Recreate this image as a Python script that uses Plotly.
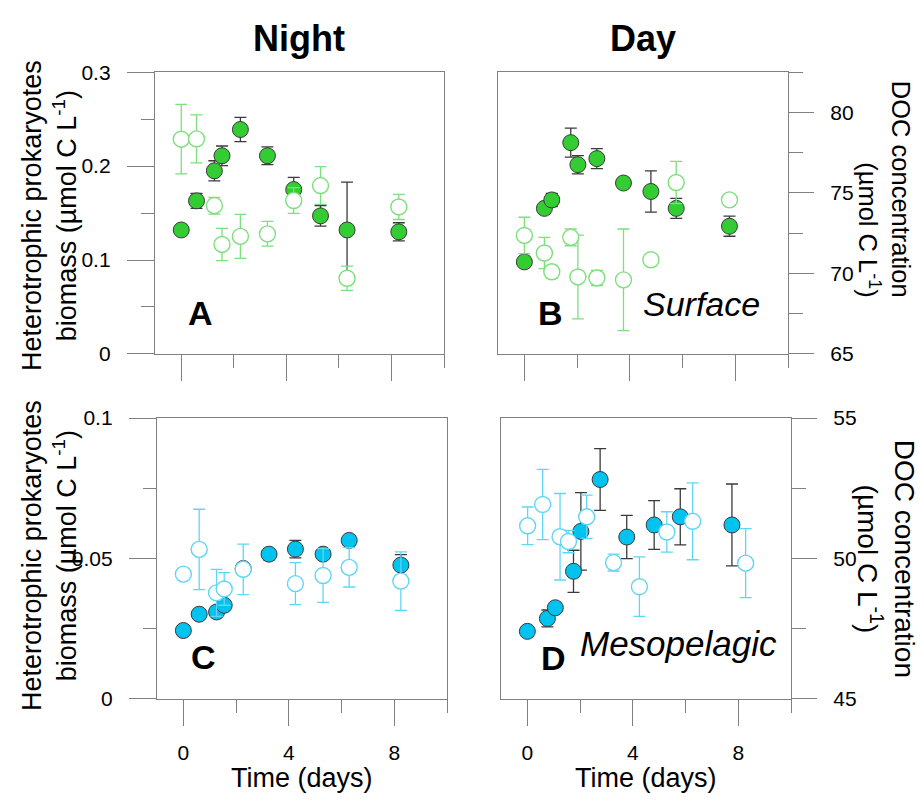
import plotly.graph_objects as go

# ---- data -------------------------------------------------------------
# Surface, night (panel A)
t_night_surf = [0, 0.58, 1.26, 1.55, 2.25, 3.28, 4.28, 5.30, 6.31, 8.28]
bio_night_surf = [0.132, 0.163, 0.195, 0.211, 0.239, 0.211, 0.175, 0.147, 0.132, 0.130]
bio_night_surf_sd = [0.003, 0.008, 0.0107, 0.0104, 0.013, 0.0095, 0.013, 0.011, 0.051, 0.0097]
doc_night_surf = [78.34, 78.36, 74.21, 71.8, 72.3, 72.46, 74.53, 75.46, 69.7, 74.13]
doc_night_surf_sd = [2.16, 1.49, 0.52, 1.0, 1.37, 0.77, 0.8, 1.17, 0.75, 0.78]

# Surface, day (panel B)
t_day_surf = [0, 0.76, 1.04, 1.76, 2.03, 2.75, 3.76, 4.80, 5.76, 7.78]
bio_day_surf = [0.098, 0.155, 0.164, 0.225, 0.2015, 0.208, 0.182, 0.173, 0.155, 0.136]
bio_day_surf_sd = [0.002, 0.004, 0.007, 0.0155, 0.0097, 0.0107, 0.003, 0.022, 0.0107, 0.0107]
doc_day_surf = [72.36, 71.27, 70.1, 72.24, 69.78, 69.72, 69.6, 70.85, 75.65, 74.57]
doc_day_surf_sd = [1.13, 0.97, 0.4, 0.52, 2.6, 0.47, 3.16, 0.0, 1.31, 0.0]

# Mesopelagic, night (panel C)
t_night_meso = [0, 0.6, 1.26, 1.55, 2.27, 3.25, 4.25, 5.30, 6.29, 8.25]
bio_night_meso = [0.0243, 0.0301, 0.0309, 0.0333, 0.0464, 0.0515, 0.0533, 0.0515, 0.0564, 0.0476]
bio_night_meso_sd = [0.0005, 0.0005, 0.0005, 0.0005, 0.0005, 0.002, 0.0031, 0.001, 0.001, 0.0037]
t_night_meso_doc = [0, 0.6, 1.26, 1.55, 2.27, 4.25, 5.30, 6.29, 8.25]
doc_night_meso = [49.44, 50.32, 48.77, 48.91, 49.61, 49.1, 49.39, 49.68, 49.19]
doc_night_meso_sd = [0.0, 1.43, 0.84, 0.58, 0.9, 0.75, 0.96, 0.7, 1.04]

# Mesopelagic, day (panel D)
t_day_meso = [0, 0.76, 1.06, 1.75, 2.03, 2.76, 3.77, 4.81, 5.80, 7.76]
bio_day_meso = [0.024, 0.0286, 0.0324, 0.0454, 0.0596, 0.0781, 0.0576, 0.0619, 0.0648, 0.0619]
bio_day_meso_sd = [0.0005, 0.003, 0.0008, 0.0075, 0.0138, 0.011, 0.0077, 0.0087, 0.010, 0.0146]
t_day_meso_doc = [0.01, 0.58, 1.24, 1.56, 2.25, 3.27, 4.25, 5.29, 6.27, 8.28]
doc_day_meso = [51.16, 51.92, 50.77, 50.6, 51.48, 49.85, 48.99, 50.94, 51.32, 49.83]
doc_day_meso_sd = [0.67, 1.25, 1.54, 0.4, 0.77, 0.3, 1.06, 0.72, 1.37, 1.23]

# ---- styling ----------------------------------------------------------
W, H = 921, 802
FONT = "Liberation Sans, Arial, sans-serif"
AXIS_GREY = "#808080"
GREEN = "#33cc33"
GREEN_LIGHT = "#7ddf7d"
CYAN = "#00c3f0"
CYAN_LIGHT = "#5fd6f4"
DARK = "#3a3a3a"


def px_x(p):
    return p / W


def px_y(p):
    return 1 - p / H


# panel boxes in pixels: (left, right, top, bottom)
boxes = {
    "A": (155, 444, 62, 352),
    "B": (498, 788, 62, 352),
    "C": (157, 447, 418, 707),
    "D": (501, 791, 418, 707),
}

fig = go.Figure()


def add_panel(xa, ybio, ydoc, t_bio, bio, bio_sd, t_doc, doc, doc_sd, fill, light):
    fig.add_trace(go.Scatter(
        x=t_doc, y=doc, mode="markers", xaxis=xa, yaxis=ydoc,
        marker=dict(symbol="circle", size=16, color="white",
                    line=dict(color=light, width=1.4)),
        error_y=dict(type="data", array=doc_sd, color=light, thickness=1.3, width=6),
        showlegend=False, hoverinfo="skip"))
    fig.add_trace(go.Scatter(
        x=t_bio, y=bio, mode="markers", xaxis=xa, yaxis=ybio,
        marker=dict(symbol="circle", size=16, color=fill,
                    line=dict(color=DARK, width=1)),
        error_y=dict(type="data", array=bio_sd, color=DARK, thickness=1.3, width=6),
        showlegend=False, hoverinfo="skip"))


add_panel("x", "y", "y2", t_night_surf, bio_night_surf, bio_night_surf_sd,
          t_night_surf, doc_night_surf, doc_night_surf_sd, GREEN, GREEN_LIGHT)
add_panel("x2", "y3", "y4", t_day_surf, bio_day_surf, bio_day_surf_sd,
          t_day_surf, doc_day_surf, doc_day_surf_sd, GREEN, GREEN_LIGHT)
add_panel("x3", "y5", "y6", t_night_meso, bio_night_meso, bio_night_meso_sd,
          t_night_meso_doc, doc_night_meso, doc_night_meso_sd, CYAN, CYAN_LIGHT)
add_panel("x4", "y7", "y8", t_day_meso, bio_day_meso, bio_day_meso_sd,
          t_day_meso_doc, doc_day_meso, doc_day_meso_sd, CYAN, CYAN_LIGHT)

tickfont = dict(family=FONT, size=21, color="black")


def xaxis(box, anchor, labels):
    l, r, t, b = box
    return dict(domain=[px_x(l), px_x(r)], range=[-1, 10.0001], anchor=anchor,
                showline=True, mirror=True, linecolor=AXIS_GREY, linewidth=1.3,
                showgrid=False, zeroline=False,
                ticks="outside", ticklen=26, tickwidth=1.3, tickcolor=AXIS_GREY,
                tickmode="linear", tick0=0, dtick=4,
                minor=dict(ticks="outside", ticklen=13, tickwidth=1.3, tickcolor=AXIS_GREY,
                           tickmode="linear", tick0=0, dtick=2, showgrid=False),
                showticklabels=labels, tickfont=tickfont, ticklabelstandoff=9)


def bio_axis(box, anchor, rng, dtick, shown):
    l, r, t, b = box
    ax = dict(domain=[px_y(b), px_y(t)], range=rng, anchor=anchor,
              showline=True, mirror=True, linecolor=AXIS_GREY, linewidth=1.3,
              showgrid=False, zeroline=False)
    if shown:
        ax.update(ticks="outside", ticklen=27, tickwidth=1.3, tickcolor=AXIS_GREY,
                  tickmode="linear", tick0=0, dtick=dtick,
                  minor=dict(ticks="outside", ticklen=13, tickwidth=1.3, tickcolor=AXIS_GREY,
                             tickmode="linear", tick0=0, dtick=dtick / 2, showgrid=False),
                  tickfont=tickfont, ticklabelstandoff=12)
    else:
        ax.update(ticks="", showticklabels=False)
    return ax


def doc_axis(anchor, overlay, rng, shown):
    ax = dict(range=rng, anchor=anchor, overlaying=overlay, side="right",
              showgrid=False, zeroline=False)
    if shown:
        ax.update(showline=True, linecolor=AXIS_GREY, linewidth=1.3,
                  ticks="outside", ticklen=25, tickwidth=1.3, tickcolor=AXIS_GREY,
                  tickmode="linear", tick0=0, dtick=5,
                  minor=dict(ticks="outside", ticklen=14, tickwidth=1.3, tickcolor=AXIS_GREY,
                             tickmode="linear", tick0=0, dtick=2.5, showgrid=False),
                  tickfont=tickfont, ticklabelstandoff=12)
    else:
        ax.update(showline=False, ticks="", showticklabels=False)
    return ax


fig.update_layout(
    width=W, height=H, margin=dict(l=0, r=0, t=0, b=0),
    paper_bgcolor="white", plot_bgcolor="white",
    font=dict(family=FONT, color="black"),
    xaxis=xaxis(boxes["A"], "y", False),
    xaxis2=xaxis(boxes["B"], "y3", False),
    xaxis3=xaxis(boxes["C"], "y5", True),
    xaxis4=xaxis(boxes["D"], "y7", True),
    yaxis=bio_axis(boxes["A"], "x", [0, 0.3], 0.1, True),
    yaxis2=doc_axis("x", "y", [65, 82.5], False),
    yaxis3=bio_axis(boxes["B"], "x2", [0, 0.3], 0.1, False),
    yaxis4=doc_axis("x2", "y3", [65, 82.5], True),
    yaxis5=bio_axis(boxes["C"], "x3", [0, 0.1], 0.05, True),
    yaxis6=doc_axis("x3", "y5", [45, 55], False),
    yaxis7=bio_axis(boxes["D"], "x4", [0, 0.1], 0.05, False),
    yaxis8=doc_axis("x4", "y7", [45, 55], True),
)

ann = []


def text(x, y, s, size, bold=False, italic=False, angle=0, align="center"):
    if bold:
        s = "<b>" + s + "</b>"
    if italic:
        s = "<i>" + s + "</i>"
    ann.append(dict(x=px_x(x), y=px_y(y), xref="paper", yref="paper", text=s,
                    showarrow=False, xanchor="center", yanchor="middle", align=align,
                    textangle=angle, font=dict(family=FONT, size=size, color="black")))


bio_title = "Heterotrophic prokaryotes<br>biomass (µmol C L<sup>-1</sup>)"
doc_title = "DOC concentration<br>(µmol C L<sup>-1</sup>)"

text(299, 27, "Night", 36, bold=True)
text(643, 27, "Day", 36, bold=True)
text(50, 210, bio_title, 27, angle=-90)
text(50, 560, bio_title, 27, angle=-90)
text(884, 182, doc_title, 25.5, angle=90, align="right")
text(886, 563, doc_title, 28, angle=90)
text(200, 310, "A", 34, bold=True)
text(550, 310, "B", 34, bold=True)
text(203, 664, "C", 34, bold=True)
text(553, 665, "D", 34, bold=True)
text(701, 301, "Surface", 34, italic=True)
text(678, 650, "Mesopelagic", 35, italic=True)
text(302, 789, "Time (days)", 27)
text(646, 789, "Time (days)", 27)

fig.update_layout(annotations=ann)
fig.write_html("out.html")
